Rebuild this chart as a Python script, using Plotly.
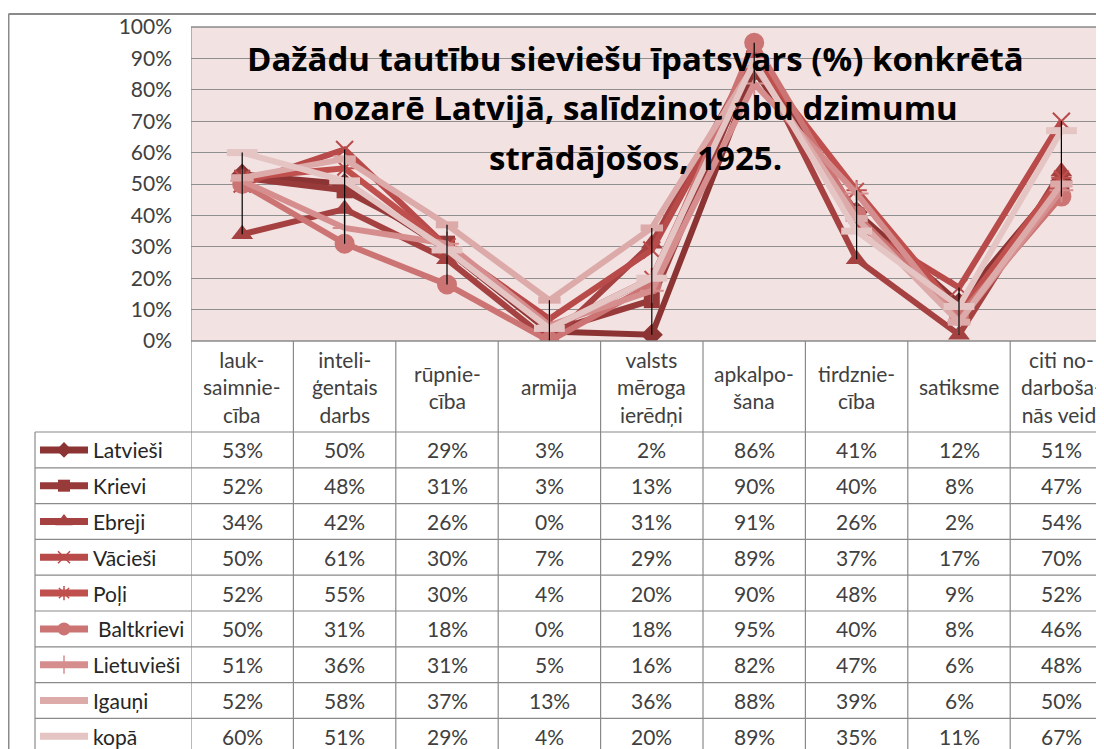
import plotly.graph_objects as go
import numpy as np

# ---------------- data ----------------
categories = ["lauk-<br>saimnie-<br>cība", "inteli-<br>ģentais<br>darbs", "rūpnie-<br>cība",
              "armija", "valsts<br>mēroga<br>ierēdņi", "apkalpo-<br>šana", "tirdznie-<br>cība",
              "satiksme", "citi no-<br>darboša-<br>nās veidi"]
series_names = ["Latvieši", "Krievi", "Ebreji", "Vācieši", "Poļi", "Baltkrievi",
                "Lietuvieši", "Igauņi", "kopā"]
latviesi   = [53, 50, 29, 3, 2, 86, 41, 12, 51]
krievi     = [52, 48, 31, 3, 13, 90, 40, 8, 47]
ebreji     = [34, 42, 26, 0, 31, 91, 26, 2, 54]
vaciesi    = [50, 61, 30, 7, 29, 89, 37, 17, 70]
poli       = [52, 55, 30, 4, 20, 90, 48, 9, 52]
baltkrievi = [50, 31, 18, 0, 18, 95, 40, 8, 46]
lietuviesi = [51, 36, 31, 5, 16, 82, 47, 6, 48]
igauni     = [52, 58, 37, 13, 36, 88, 39, 6, 50]
kopa       = [60, 51, 29, 4, 20, 89, 35, 11, 67]
y_ticks = [0, 10, 20, 30, 40, 50, 60, 70, 80, 90, 100]
title_lines = ["Dažādu tautību sieviešu īpatsvars (%) konkrētā",
               "nozarē Latvijā, salīdzinot abu dzimumu",
               "strādājošos, 1925."]

series_values = [latviesi, krievi, ebreji, vaciesi, poli, baltkrievi, lietuviesi, igauni, kopa]

# ---------------- styles ----------------
colors = ["#8C3434", "#983A3A", "#A64141", "#B84A4A", "#C0504D", "#CC7473",
          "#D58E8D", "#DDAAAA", "#E5C4C4"]
symbols = ["diamond", "square", "triangle-up", "x-thin", "asterisk", "circle",
           "cross-thin", "line-ew", "line-ew"]
open_sym = {"x-thin", "asterisk", "cross-thin", "line-ew"}
msize = [17, 16, 19, 17, 17, 20, 17, 16, 22]
legend_msize = [12, 12, 15, 12, 12, 13, 13, 1, 1]

W, H = 1104, 749
OFF = 8                      # page body margin: figure origin sits at (8, 8)


def px(v):
    """reference-screen pixel -> figure pixel"""
    return v - OFF


PL, PT, PB = px(191), px(27), px(341)      # plot area in figure pixels
COLW = 102.4
HEAD_BOT = px(432)
ROWH = 35.8
FONT = "Lato, 'Open Sans', sans-serif"
TFONT = "'Open Sans', Lato, sans-serif"
GRID = "#8F8F8F"
BORDER = "#8A8A8A"
TS = 21

fig = go.Figure()

x_idx = list(range(len(categories)))

for name, vals, c, sym, ms in zip(series_names, series_values, colors, symbols, msize):
    y = [v / 100 for v in vals]
    mk = dict(symbol=sym, size=ms, color=c)
    if sym in open_sym:
        mk["line"] = dict(color=c, width=2 if sym != "line-ew" else 7)
    fig.add_trace(go.Scatter(x=x_idx, y=y, mode="lines+markers", name=name,
                             line=dict(color=c, width=6), marker=mk,
                             showlegend=False, hoverinfo="skip"))

# high-low lines
arr = np.array(series_values) / 100
hx, hy = [], []
for i in x_idx:
    hx += [i, i, None]
    hy += [arr[:, i].min(), arr[:, i].max(), None]
fig.add_trace(go.Scatter(x=hx, y=hy, mode="lines", line=dict(color="black", width=1.2),
                         showlegend=False, hoverinfo="skip"))

# legend keys inside table (pixel axes x2/y2)
row_centers = [HEAD_BOT + (j + 0.5) * ROWH for j in range(len(series_names))]
for j, (c, sym, ms) in enumerate(zip(colors, symbols, legend_msize)):
    yc = row_centers[j]
    fig.add_trace(go.Scatter(x=[px(40), px(88)], y=[yc, yc], mode="lines", xaxis="x2", yaxis="y2",
                             line=dict(color=c, width=7), showlegend=False, hoverinfo="skip"))
    if sym != "line-ew":
        mk = dict(symbol=sym, size=ms, color=c)
        if sym in open_sym:
            mk["line"] = dict(color=c, width=1.5)
        fig.add_trace(go.Scatter(x=[px(64)], y=[yc], mode="markers", xaxis="x2", yaxis="y2",
                                 marker=mk, showlegend=False, hoverinfo="skip"))

shapes = []
# plot background
shapes.append(dict(type="rect", xref="x domain", yref="y domain", x0=0, x1=1, y0=0, y1=1,
                   fillcolor="#F2E2E2", line=dict(width=0), layer="below"))
# outer chart border
shapes.append(dict(type="line", xref="x2", yref="y2", x0=0.5, x1=0.5, y0=px(14), y1=H,
                   line=dict(color=BORDER, width=2)))
shapes.append(dict(type="line", xref="x2", yref="y2", x0=0.5, x1=W, y0=px(14), y1=px(14),
                   line=dict(color=BORDER, width=2)))
# plot top border
shapes.append(dict(type="line", xref="x2", yref="y2", x0=PL, x1=W, y0=PT, y1=PT,
                   line=dict(color=BORDER, width=1.5)))
# table vertical lines
for k in range(len(categories) + 1):
    shapes.append(dict(type="line", xref="x", yref="y2", x0=k - 0.5, x1=k - 0.5,
                       y0=PT if k == 0 else PB, y1=H, line=dict(color=BORDER, width=1.2)))
# table horizontal lines
shapes.append(dict(type="line", xref="x2", yref="y2", x0=PL, x1=W, y0=PB, y1=PB,
                   line=dict(color=BORDER, width=1.5)))
for j in range(len(series_names) + 1):
    yy = HEAD_BOT + j * ROWH
    shapes.append(dict(type="line", xref="x2", yref="y2", x0=px(35), x1=W, y0=yy, y1=yy,
                       line=dict(color=BORDER, width=1.2)))
shapes.append(dict(type="line", xref="x2", yref="y2", x0=px(35), x1=px(35), y0=HEAD_BOT, y1=H,
                   line=dict(color=BORDER, width=1.2)))

annotations = []
# title
for t, yc in zip(title_lines, [px(58), px(107), px(157)]):
    annotations.append(dict(text=t, xref="x2", yref="y2", x=px(635), y=yc, showarrow=False,
                            xanchor="center", yanchor="middle",
                            font=dict(family=TFONT, size=33, color="black", weight="bold")))
# header
for i, cat in enumerate(categories):
    annotations.append(dict(text=cat, xref="x", yref="y2", x=i, y=(PB + HEAD_BOT) / 2,
                            showarrow=False, xanchor="center", yanchor="middle",
                            font=dict(family=FONT, size=TS, color="#404040")))
# rows
for j, (name, vals) in enumerate(zip(series_names, series_values)):
    yc = row_centers[j]
    annotations.append(dict(text=name, xref="x2", yref="y2", x=px(91) if j != 5 else px(96), y=yc,
                            showarrow=False, xanchor="left", yanchor="middle",
                            font=dict(family=FONT, size=TS, color="#262626")))
    for i, v in enumerate(vals):
        annotations.append(dict(text=f"{v}%", xref="x", yref="y2", x=i, y=yc,
                                showarrow=False, xanchor="center", yanchor="middle",
                                font=dict(family=FONT, size=TS, color="#404040")))

fig.update_layout(
    width=W, height=H,
    margin=dict(l=0, r=0, t=0, b=0, autoexpand=False),
    paper_bgcolor="white", plot_bgcolor="rgba(0,0,0,0)",
    font=dict(family=FONT),
    xaxis=dict(domain=[PL / W, 1], range=[-0.5, -0.5 + (W - PL) / COLW], automargin=False,
               showticklabels=False, showgrid=False, zeroline=False, ticks=""),
    yaxis=dict(domain=[1 - PB / H, 1 - PT / H], range=[0, 1], automargin=False,
               tickvals=[v / 100 for v in y_ticks], ticktext=[f"{v}%" for v in y_ticks],
               showgrid=True, gridcolor=GRID, gridwidth=1.2, zeroline=False,
               ticklabelstandoff=18, tickfont=dict(family=FONT, size=TS, color="#404040")),
    xaxis2=dict(domain=[0, 1], range=[0, W], visible=False, anchor="y2", automargin=False),
    yaxis2=dict(domain=[0, 1], range=[H, 0], visible=False, anchor="x2", automargin=False),
    shapes=shapes, annotations=annotations,
)

fig.write_html("out.html")
